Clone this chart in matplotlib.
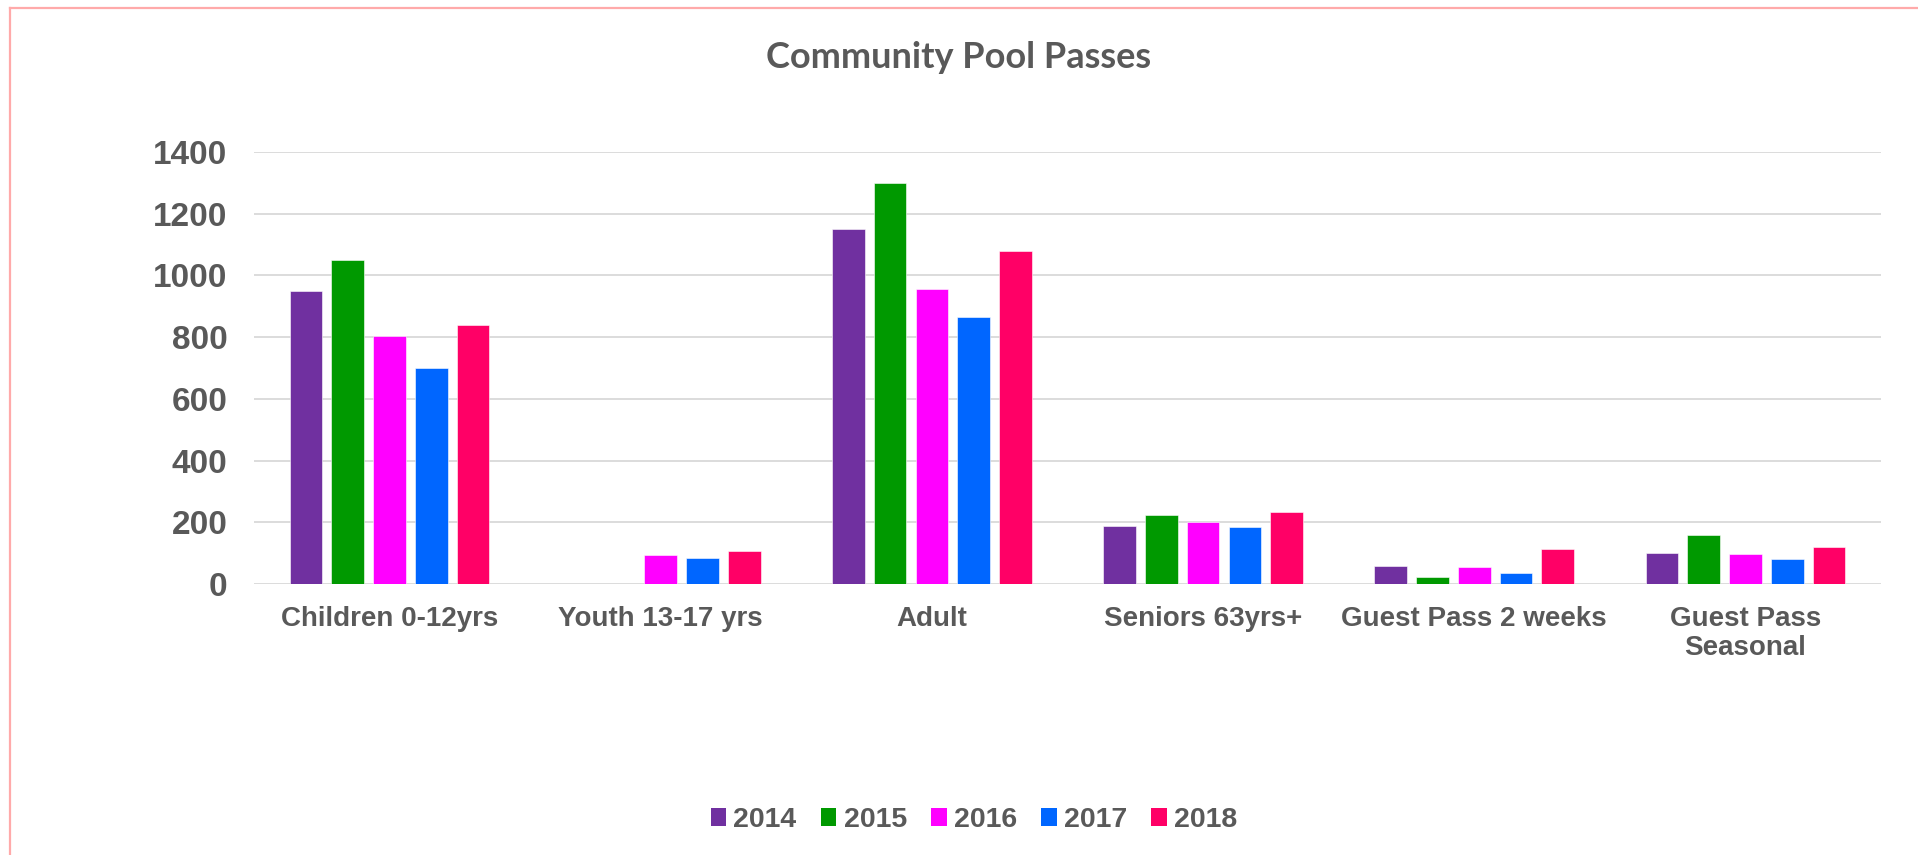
import matplotlib
matplotlib.use("Agg")
import matplotlib.pyplot as plt
import numpy as np
from matplotlib.lines import Line2D
from matplotlib.patches import Patch

categories = ["Children 0-12yrs", "Youth 13-17 yrs", "Adult", "Seniors 63yrs+",
              "Guest Pass 2 weeks", "Guest Pass\nSeasonal"]
years = ["2014", "2015", "2016", "2017", "2018"]
v2014 = [950, 0, 1150, 187, 58, 101]
v2015 = [1050, 0, 1300, 223, 22, 158]
v2016 = [805, 94, 955, 201, 56, 97]
v2017 = [700, 84, 865, 186, 37, 80]
v2018 = [840, 107, 1080, 232, 112, 119]
series = [v2014, v2015, v2016, v2017, v2018]
colors = ["#7030A0", "#009900", "#FF00FF", "#0066FF", "#FF0066"]
yticks = [0, 200, 400, 600, 800, 1000, 1200, 1400]

text_color = "#595959"
fig = plt.figure(figsize=(19.18, 8.55), dpi=100)
ax = fig.add_axes([254/1918, 1-584/855, (1881-254)/1918, (584-152)/855])

x = np.arange(len(categories))
step = 0.154
width = 0.1205
for i, (vals, c, yr) in enumerate(zip(series, colors, years)):
    ax.bar(x + (i - 2) * step, vals, width=width, color=c, label=yr,
           edgecolor="white", linewidth=0.4, zorder=3)

ax.set_xlim(-0.5, len(categories) - 0.5)
ax.set_ylim(0, 1400)
ax.set_yticks(yticks)
ax.set_yticklabels([str(t) for t in yticks], fontfamily="Liberation Sans",
                   fontweight="bold", fontsize=24, color=text_color)
ax.set_xticks(x)
ax.set_xticklabels(categories, fontfamily="Liberation Sans", fontweight="bold",
                   fontsize=20, color=text_color, linespacing=1.12)
ax.tick_params(axis="both", length=0)
ax.tick_params(axis="y", pad=19)
ax.tick_params(axis="x", pad=16)
for s in ax.spines.values():
    s.set_visible(False)
ax.grid(axis="y", color="#D9D9D9", linewidth=1.3, zorder=0)
ax.set_axisbelow(True)

fig.text(0.5, 1-58/855, "Community Pool Passes", ha="center", va="center",
         fontfamily="Lato", fontweight="bold", fontsize=26, color=text_color)

handles = [Patch(facecolor=c, edgecolor="none", label=y) for c, y in zip(colors, years)]
leg = fig.legend(handles=handles, loc="center", bbox_to_anchor=(974/1918, 1-820/855),
                 ncol=5, frameon=False, handlelength=0.55, handleheight=0.55,
                 handletextpad=0.25, columnspacing=0.85,
                 prop={"family": "Liberation Sans", "weight": "bold", "size": 20.5})
for t in leg.get_texts():
    t.set_color(text_color)

fig.add_artist(Line2D([10/1918, 1], [1-8/855, 1-8/855], color="#FFAAAA", linewidth=1.6))
fig.add_artist(Line2D([10/1918, 10/1918], [0, 1-8/855], color="#FFAAAA", linewidth=1.6))

fig.savefig("out.png", dpi=100, facecolor="white")
